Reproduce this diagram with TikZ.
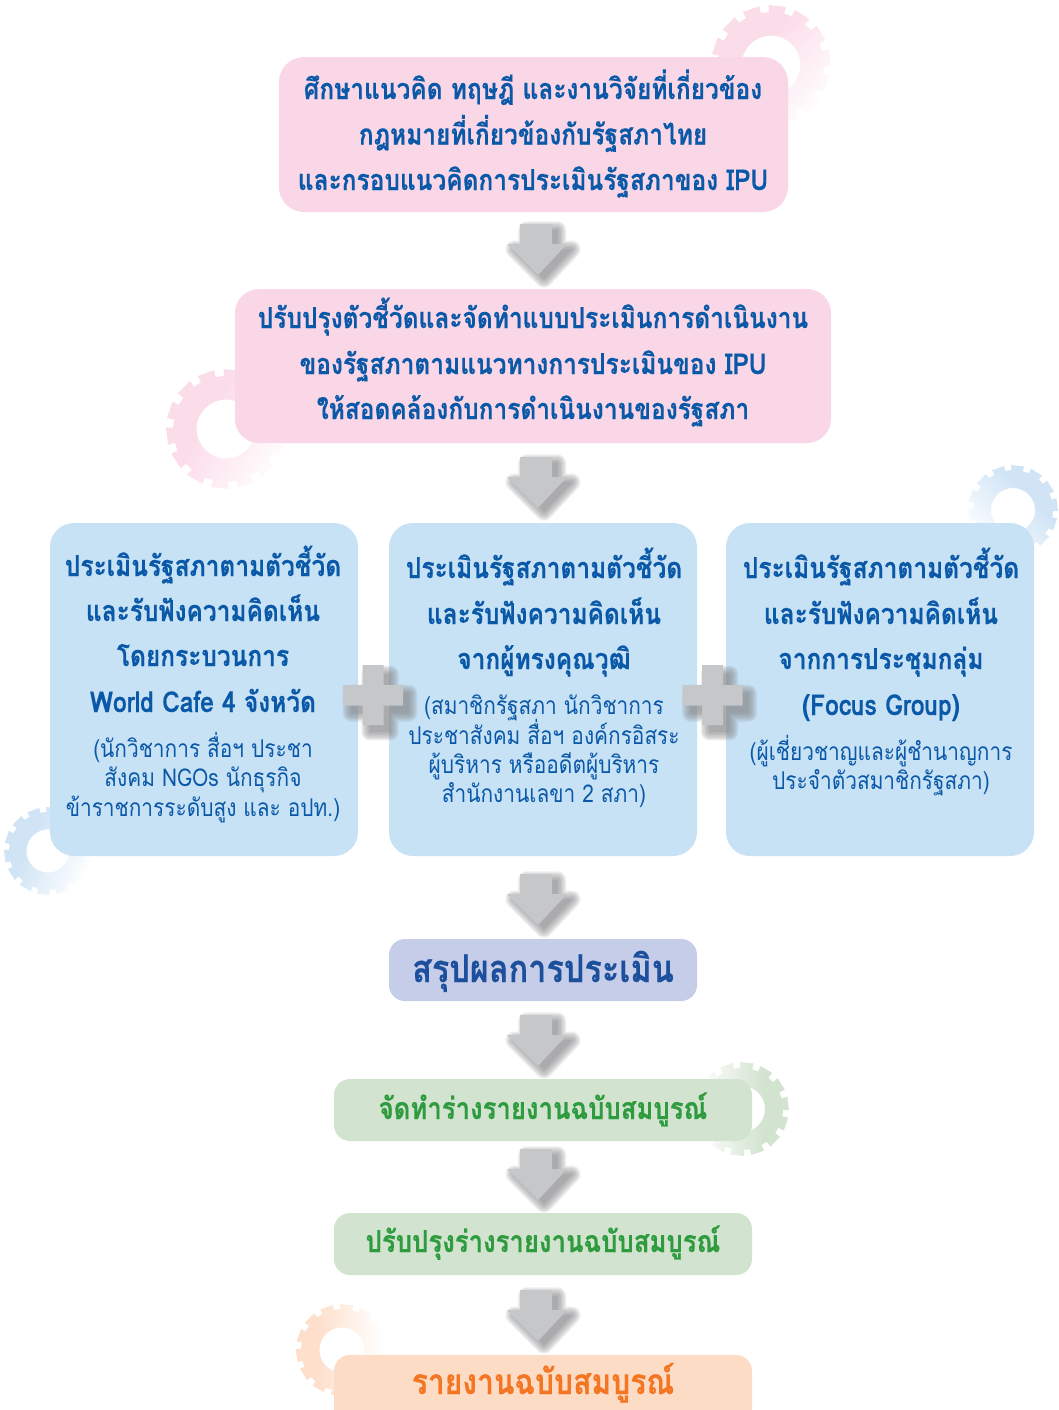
\documentclass[tikz,border=0pt]{standalone}
\usepackage{fontspec}
\setmainfont[Script=Thai,FakeStretch=0.85,BoldFeatures={FakeBold=0.3}]{Loma}
\definecolor{pinkbox}{HTML}{FAD7E7}
\definecolor{bluebox}{HTML}{C7E1F5}
\definecolor{navybox}{HTML}{C6CDE8}
\definecolor{greenbox}{HTML}{D2E3CF}
\definecolor{orangebox}{HTML}{FDDCC5}
\definecolor{bluetext}{HTML}{0A58A8}
\definecolor{greentext}{HTML}{2E9B3F}
\definecolor{orangetext}{HTML}{F47522}
\definecolor{navytext}{HTML}{1C4F9C}
\definecolor{arrowgrey}{HTML}{C6C7C9}
\definecolor{shadowgrey}{HTML}{8A8B8D}
\definecolor{pinkgear}{HTML}{FBDCE9}
\definecolor{bluegear}{HTML}{D0E4F6}
\definecolor{greengear}{HTML}{D2E3CF}
\definecolor{orangegear}{HTML}{FDDFCB}
\pgfdeclarehorizontalshading{gearpink}{100bp}{color(0bp)=(pinkgear); color(40bp)=(pinkgear); color(78bp)=(white); color(100bp)=(white)}
\pgfdeclarehorizontalshading{gearblue}{100bp}{color(0bp)=(bluegear); color(38bp)=(bluegear); color(76bp)=(white); color(100bp)=(white)}
\pgfdeclarehorizontalshading{geargreen}{100bp}{color(0bp)=(greengear); color(38bp)=(greengear); color(74bp)=(white); color(100bp)=(white)}
\pgfdeclarehorizontalshading{gearorange}{100bp}{color(0bp)=(orangegear); color(36bp)=(orangegear); color(72bp)=(white); color(100bp)=(white)}
\tikzset{
  panel/.style={rounded corners=#1,inner sep=0pt,outer sep=0pt,draw=none},
  linehead/.style={anchor=base,inner sep=0pt,outer sep=0pt,text=bluetext,font=\bfseries\fontsize{21.6}{25}\selectfont},
  linesub/.style={anchor=base,inner sep=0pt,outer sep=0pt,text=bluetext,font=\fontsize{18.4}{21}\selectfont},
  linegreen/.style={anchor=base,inner sep=0pt,outer sep=0pt,text=greentext,font=\bfseries\fontsize{22.7}{26}\selectfont},
  linebig/.style={anchor=base,inner sep=0pt,outer sep=0pt,font=\bfseries\fontsize{#1}{32}\selectfont},
}
\newcommand{\gearshape}[7]{% cx cy R Ri shading angle phase
  \shade[even odd rule,shading=#5,shading angle=#6,shift={(#1,#2)}]
    ({#7+4.5}:#3)
    \foreach \ti in {0,...,13}{
      -- ({#7+\ti*360/14+4.5}:#3)
      -- ({#7+(\ti+1)*360/14-4.5}:#3)
      -- ({#7+(\ti+1)*360/14-4.5}:#4)
      -- ({#7+(\ti+1)*360/14+4.5}:#4)
    } -- cycle
    (0,0) circle ({#3*0.49});
}
\newcommand{\softshadow}[1]{%
  \foreach \shw in {13,11,9,7,5,3,1,0.1}{
    \begin{scope}[transparency group,opacity=0.15]
      \path[draw=shadowgrey,fill=shadowgrey,line join=round,line width=\shw pt] #1;
    \end{scope}
  }
}
\def\arrowoutline{(-18,0) -- (14,0) -- (14,20) -- (29,20) -- (0,51) -- (-31,20) -- (-18,20) -- cycle}
\def\plusoutline{(-10.5,-30) -- (10.5,-30) -- (10.5,-10) -- (30,-10) -- (30,10.5) -- (10.5,10.5) -- (10.5,30) -- (-10.5,30) -- (-10.5,10.5) -- (-30,10.5) -- (-30,-10) -- (-10.5,-10) -- cycle}
\newcommand{\blockarrow}[2]{% x of centre, y of top
  \begin{scope}[shift={(#1,#2)}]
    \begin{scope}[shift={(6,6)},scale=0.96]
      \softshadow{\arrowoutline}
    \end{scope}
    \fill[arrowgrey] \arrowoutline;
  \end{scope}
}
\newcommand{\plusmark}[2]{% centre
  \begin{scope}[shift={(#1,#2)}]
    \begin{scope}[shift={(7,8)},scale=0.96]
      \softshadow{\plusoutline}
    \end{scope}
    \fill[arrowgrey] \plusoutline;
  \end{scope}
}
\begin{document}
\begin{tikzpicture}[x=0.75pt,y=-0.75pt]
\useasboundingbox (0,0) rectangle (1059,1410);
\clip (0,0) rectangle (1059,1410);
% gears
\gearshape{771}{65}{60}{53}{gearpink}{-45}{6}
\gearshape{226}{429}{60}{53}{gearpink}{-30}{6}
\gearshape{1013}{510}{45}{40}{gearblue}{-135}{6}
\gearshape{48}{851}{44}{39}{gearblue}{-25}{6}
\gearshape{742}{1109}{47}{41}{geargreen}{180}{6}
\gearshape{342}{1350}{46}{41}{gearorange}{0}{6}
% panels
\node[panel=18.75pt,fill=pinkbox,minimum width=381.75pt,minimum height=116.25pt] (b1) at (533.5,134.5) {};
\node[panel=18pt,fill=pinkbox,minimum width=447pt,minimum height=115.5pt] (b2) at (533,366) {};
\node[panel=18pt,fill=bluebox,minimum width=231pt,minimum height=249.75pt] (b3) at (204,689.5) {};
\node[panel=18pt,fill=bluebox,minimum width=231pt,minimum height=249.75pt] (b4) at (543,689.5) {};
\node[panel=18pt,fill=bluebox,minimum width=231pt,minimum height=249.75pt] (b5) at (880,689.5) {};
\node[panel=12pt,fill=navybox,minimum width=231pt,minimum height=46.5pt] (b6) at (543,970) {};
\node[panel=12pt,fill=greenbox,minimum width=313.5pt,minimum height=46.5pt] (b7) at (543,1110) {};
\node[panel=12pt,fill=greenbox,minimum width=313.5pt,minimum height=46.5pt] (b8) at (543,1244) {};
\node[panel=12pt,fill=orangebox,minimum width=313.5pt,minimum height=52.5pt] (b9) at (543,1390) {};
% block arrows between panels
\blockarrow{538}{224}
\blockarrow{538}{457}
\blockarrow{538}{874}
\blockarrow{538}{1015}
\blockarrow{538}{1149}
\blockarrow{538}{1290}
\plusmark{373}{695}
\plusmark{712.5}{695}
% text
\node[linehead] (t1a) at (533,99) {ศึกษาแนวคิด ทฤษฎี และงานวิจัยที่เกี่ยวข้อง};
\node[linehead] (t1b) at (533,144.5) {กฎหมายที่เกี่ยวข้องกับรัฐสภาไทย};
\node[linehead] (t1c) at (533,190) {และกรอบแนวคิดการประเมินรัฐสภาของ IPU};
\node[linehead] (t2a) at (533,328) {ปรับปรุงตัวชี้วัดและจัดทำแบบประเมินการดำเนินงาน};
\node[linehead] (t2b) at (533,374) {ของรัฐสภาตามแนวทางการประเมินของ IPU};
\node[linehead] (t2c) at (533,419) {ให้สอดคล้องกับการดำเนินงานของรัฐสภา};
\node[linehead] (t3a) at (203,576) {ประเมินรัฐสภาตามตัวชี้วัด};
\node[linehead] (t3b) at (203,621) {และรับฟังความคิดเห็น};
\node[linehead] (t3c) at (203,666) {โดยกระบวนการ};
\node[linehead] (t3d) at (203,712) {World Cafe 4 จังหวัด};
\node[linesub] (t3e) at (203,757) {(นักวิชาการ สื่อฯ ประชา};
\node[linesub] (t3f) at (203,786) {สังคม NGOs นักธุรกิจ};
\node[linesub] (t3g) at (203,816) {ข้าราชการระดับสูง และ อปท.)};
\node[linehead] (t4a) at (544,578) {ประเมินรัฐสภาตามตัวชี้วัด};
\node[linehead] (t4b) at (544,624) {และรับฟังความคิดเห็น};
\node[linehead] (t4c) at (544,669) {จากผู้ทรงคุณวุฒิ};
\node[linesub] (t4d) at (544,714) {(สมาชิกรัฐสภา นักวิชาการ};
\node[linesub] (t4e) at (544,744) {ประชาสังคม สื่อฯ องค์กรอิสระ};
\node[linesub] (t4f) at (544,773) {ผู้บริหาร หรืออดีตผู้บริหาร};
\node[linesub] (t4g) at (544,802) {สำนักงานเลขา 2 สภา)};
\node[linehead] (t5a) at (881,578) {ประเมินรัฐสภาตามตัวชี้วัด};
\node[linehead] (t5b) at (881,624) {และรับฟังความคิดเห็น};
\node[linehead] (t5c) at (881,669) {จากการประชุมกลุ่ม};
\node[linehead] (t5d) at (881,715) {(Focus Group)};
\node[linesub] (t5e) at (881,760) {(ผู้เชี่ยวชาญและผู้ชำนาญการ};
\node[linesub] (t5f) at (881,789) {ประจำตัวสมาชิกรัฐสภา)};
\node[linebig=28.6,text=navytext] (t6) at (543,982) {สรุปผลการประเมิน};
\node[linegreen] (t7) at (543,1119) {จัดทำร่างรายงานฉบับสมบูรณ์};
\node[linegreen] (t8) at (543,1252) {ปรับปรุงร่างรายงานฉบับสมบูรณ์};
\node[linebig=26.5,text=orangetext] (t9) at (543,1394) {รายงานฉบับสมบูรณ์};
\end{tikzpicture}
\end{document}
